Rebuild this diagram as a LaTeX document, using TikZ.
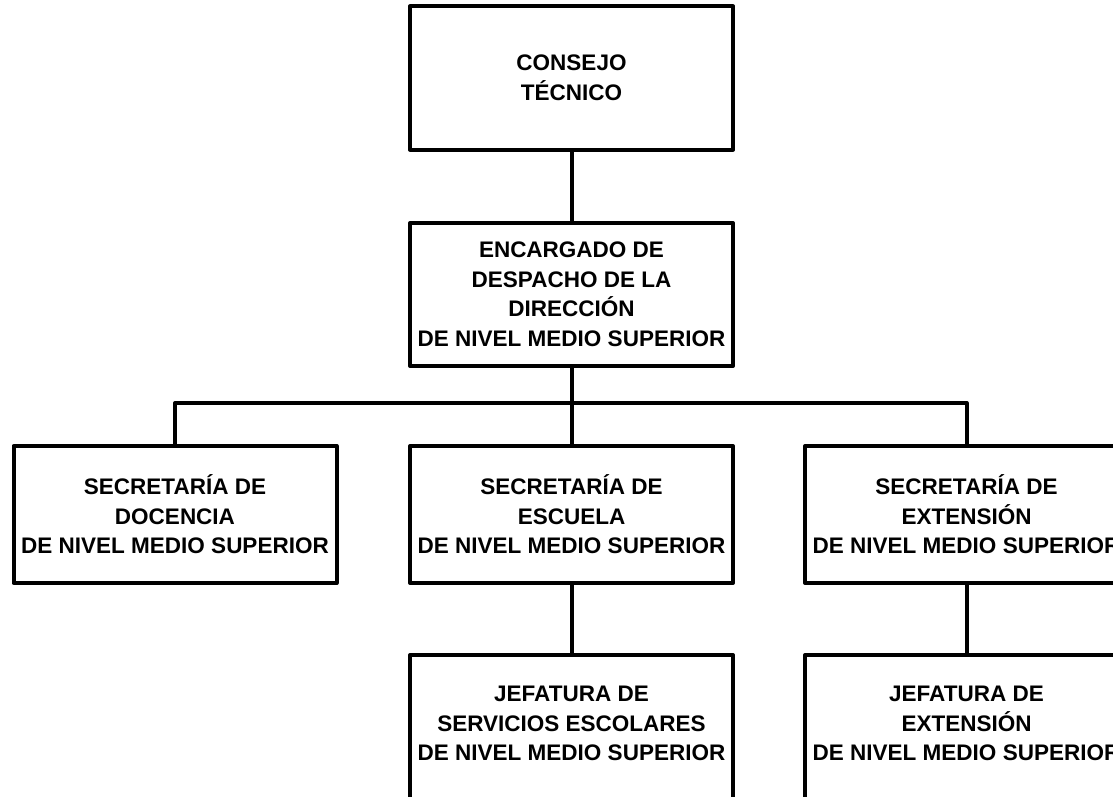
\documentclass[tikz,border=0pt]{standalone}
\usepackage{fontspec}
\setmainfont{Liberation Sans}
\begin{document}
\begin{tikzpicture}[x=1pt,y=-1pt,
  frame/.style={line width=4pt, line join=round},
  orgbox/.style={frame, draw, minimum width=323pt, minimum height=143pt, inner sep=0pt,
    align=center, font=\fontsize{22.5pt}{29.5pt}\selectfont\bfseries},
  lowbox/.style={orgbox, minimum height=137pt},
  openbox/.style={lowbox, draw=none, outer sep=0pt},
  link/.style={line width=4pt}]
\useasboundingbox (0,0) rectangle (1113,797);
\clip (0,0) rectangle (1113,797);
\fill[white] (0,0) rectangle (1113,797);

\node[orgbox] (ct) at (571.5,78) {CONSEJO\\TÉCNICO};
\node[orgbox] (enc) at (571.5,294.5) {ENCARGADO DE\\DESPACHO DE LA\\DIRECCIÓN\\DE NIVEL MEDIO SUPERIOR};

\node[lowbox] (doc) at (175,514.5) {SECRETARÍA DE\\DOCENCIA\\DE NIVEL MEDIO SUPERIOR};
\node[lowbox] (esc) at (571.5,514.5) {SECRETARÍA DE\\ESCUELA\\DE NIVEL MEDIO SUPERIOR};
\node[lowbox] (ext) at (966.5,514.5) {SECRETARÍA DE\\EXTENSIÓN\\DE NIVEL MEDIO SUPERIOR};

\node[openbox] (jse) at (571.5,723.5) {JEFATURA DE\\SERVICIOS ESCOLARES\\DE NIVEL MEDIO SUPERIOR};
\node[openbox] (jex) at (966.5,723.5) {JEFATURA DE\\EXTENSIÓN\\DE NIVEL MEDIO SUPERIOR};
\draw[frame] ([yshift=-40pt]jse.south west) -- (jse.north west) -- (jse.north east) -- ([yshift=-40pt]jse.south east);
\draw[frame] ([yshift=-40pt]jex.south west) -- (jex.north west) -- (jex.north east) -- ([yshift=-40pt]jex.south east);

\coordinate (bar) at (571.5,403);
\draw[link] (ct.south) -- (enc.north);
\draw[link] (enc.south) -- (esc.north);
\draw[link, line join=round] (doc.north) |- (bar) -| (ext.north);
\draw[link] (esc.south) -- (jse.north);
\draw[link] (ext.south) -- (jex.north);
\end{tikzpicture}
\end{document}
